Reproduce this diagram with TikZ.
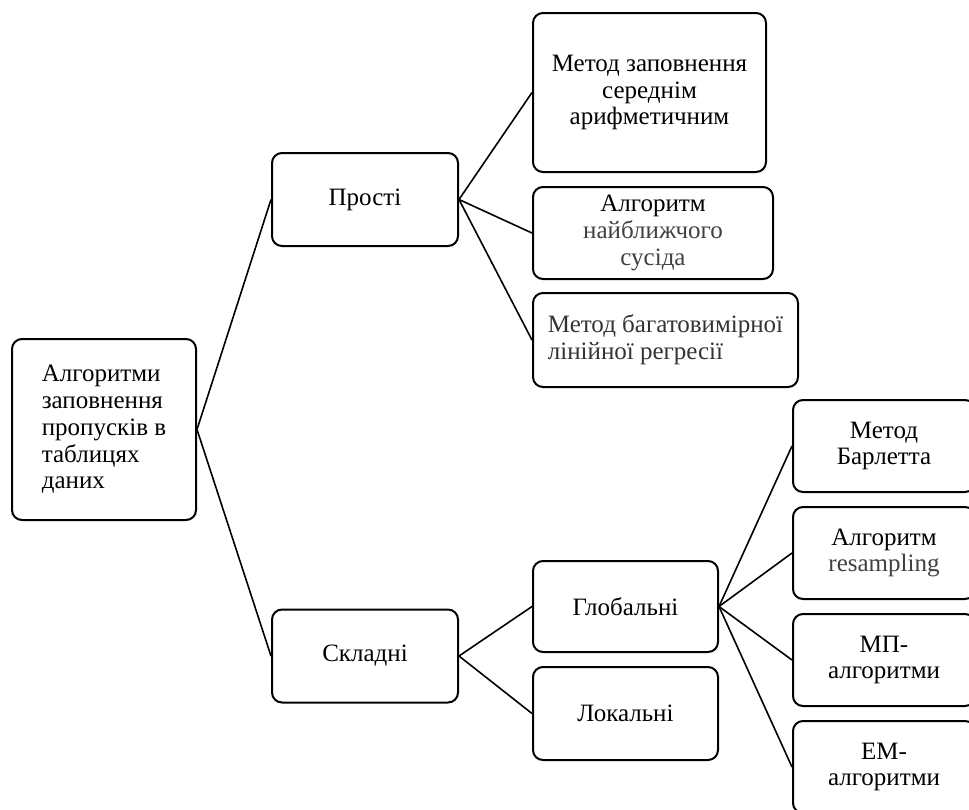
\documentclass[tikz,border=0pt]{standalone}
\usepackage{fontspec}
\setmainfont{Liberation Serif}
\usepackage{xcolor}

\begin{document}
\begin{tikzpicture}[x=1pt, y=-1pt,
    blok/.style={draw, line width=2pt, rounded corners=10pt, inner sep=0pt, align=center,
        font=\fontsize{25}{26.8}\selectfont},
    zv/.style={line width=1.6pt}]
    \useasboundingbox (0,0) rectangle (969,809);
    \clip (0,0) rectangle (969,809);
    % les blocs
    \node[blok, align=left, minimum width=184pt, minimum height=181pt] (korin) at (104,429.5) {Алгоритми\\заповнення\\пропусків в\\таблицях\\даних};
    \node[blok, minimum width=186pt, minimum height=93pt] (prosti) at (365,199.5) {Прості};
    \node[blok, minimum width=186pt, minimum height=93pt] (skladni) at (365,656) {Складні};
    \node[blok, minimum width=233pt, minimum height=159pt] (serednie) at (649.5,92.5) {Метод заповнення\\середнім\\арифметичним};
    \node[blok, minimum width=240pt, minimum height=92pt] (susid) at (653,233) {Алгоритм\\\textcolor{black!75}{найближчого}\\\textcolor{black!75}{сусіда}};
    \node[blok, align=left, minimum width=265pt, minimum height=94pt] (regresia) at (665.5,340) {\textcolor{black!80}{Метод багатовимірної}\\\textcolor{black!80}{лінійної регресії}};
    \node[blok, minimum width=185pt, minimum height=91pt] (globalni) at (625.5,606.5) {Глобальні};
    \node[blok, minimum width=185pt, minimum height=93pt] (lokalni) at (625.5,713.5) {Локальні};
    \node[blok, minimum width=182pt, minimum height=92pt] (barlett) at (884,446) {Метод\\Барлетта};
    \node[blok, minimum width=182pt, minimum height=92pt] (resampl) at (884,553) {Алгоритм\\\textcolor{black!75}{resampling}};
    \node[blok, minimum width=182pt, minimum height=92pt] (mp) at (884,660) {МП-\\алгоритми};
    \node[blok, minimum width=182pt, minimum height=92pt] (em) at (884,767) {ЕМ-\\алгоритми};
    % les liens
    \draw[zv] (korin.east) -- (prosti.west);
    \draw[zv] (korin.east) -- (skladni.west);
    \draw[zv] (prosti.east) -- (serednie.west);
    \draw[zv] (prosti.east) -- (susid.west);
    \draw[zv] (prosti.east) -- (regresia.west);
    \draw[zv] (skladni.east) -- (globalni.west);
    \draw[zv] (skladni.east) -- (lokalni.west);
    \foreach \r in {barlett, resampl, mp, em}
        \draw[zv] (globalni.east) -- (\r.west);
\end{tikzpicture}
\end{document}
